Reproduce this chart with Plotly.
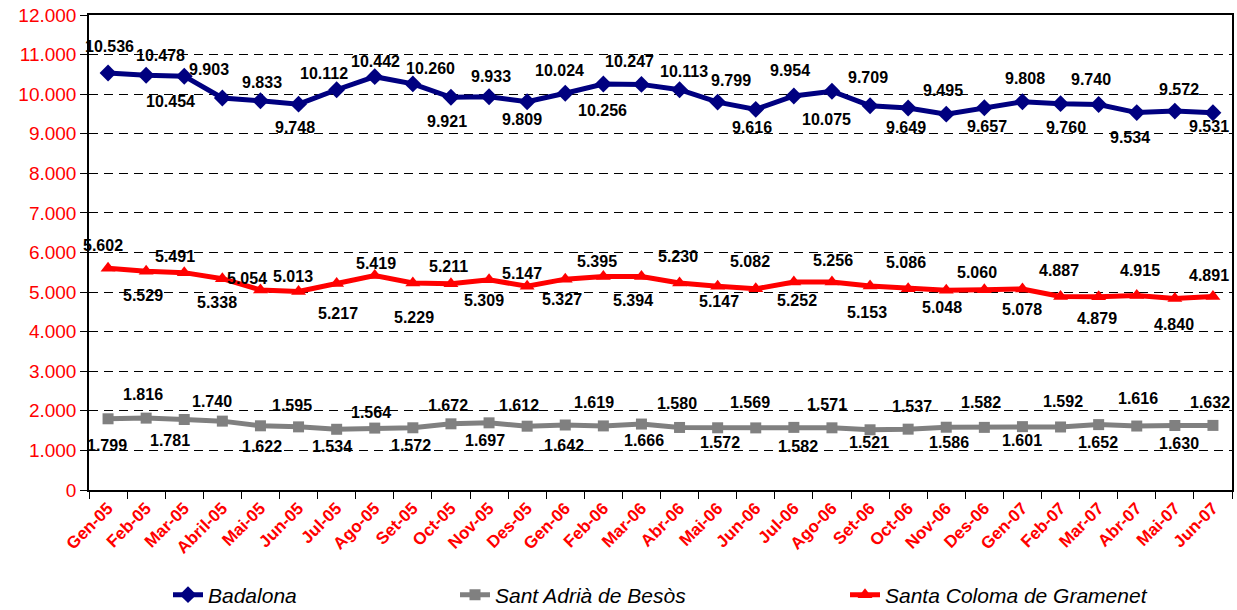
import plotly.graph_objects as go

months = ["Gen-05", "Feb-05", "Mar-05", "Abril-05", "Mai-05", "Jun-05", "Jul-05", "Ago-05",
          "Set-05", "Oct-05", "Nov-05", "Des-05", "Gen-06", "Feb-06", "Mar-06", "Abr-06",
          "Mai-06", "Jun-06", "Jul-06", "Ago-06", "Set-06", "Oct-06", "Nov-06", "Des-06",
          "Gen-07", "Feb-07", "Mar-07", "Abr-07", "Mai-07", "Jun-07"]

badalona = [10536, 10478, 10454, 9903, 9833, 9748, 10112, 10442, 10260, 9921, 9933, 9809,
            10024, 10256, 10247, 10113, 9799, 9616, 9954, 10075, 9709, 9649, 9495, 9657,
            9808, 9760, 9740, 9534, 9572, 9531]

sant_adria = [1799, 1816, 1781, 1740, 1622, 1595, 1534, 1564, 1572, 1672, 1697, 1612,
              1642, 1619, 1666, 1580, 1572, 1569, 1582, 1571, 1521, 1537, 1586, 1582,
              1601, 1592, 1652, 1616, 1630, 1632]

santa_coloma = [5602, 5529, 5491, 5338, 5054, 5013, 5217, 5419, 5229, 5211, 5309, 5147,
                5327, 5395, 5394, 5230, 5147, 5082, 5252, 5256, 5153, 5086, 5048, 5060,
                5078, 4887, 4879, 4915, 4840, 4891]

y_ticks = [0, 1000, 2000, 3000, 4000, 5000, 6000, 7000, 8000, 9000, 10000, 11000, 12000]

# data-label pixel offsets from each point (style only): dx right, dy down
bad_dx = [1, 14, -14, -13, 2, -4, -13, 1, 18, -4, 2, -5, -6, -1, -12, 4, 13, -4, -4, -5,
          -2, -2, -3, 3, 3, 5, -8, -7, 4, -4]
bad_dy = [-26, -20, 25, -29, -18, 23, -16, -15, -15, 24, -20, 18, -23, 26, -23, -18, -22, 18,
          -25, 28, -28, 19, -24, 19, -23, 24, -25, 25, -22, 14]
sant_dx = [-1, -3, -14, -10, 2, -7, -5, -4, -2, -3, -4, -8, -1, -9, 3, -3, 2, -6, 4, -5,
           -1, 4, 3, -3, 0, 2, -1, 1, 4, -3]
sant_dy = [27, -24, 21, -20, 21, -21, 17, -16, 18, -18, 18, -21, 20, -23, 16, -24, 15, -25,
           19, -23, 13, -23, 15, -25, 14, -25, 18, -28, 18, -23]
santa_dx = [-5, -3, -9, -5, -13, -6, 1, 1, 1, -2, -5, -5, -3, -6, -8, -2, 1, -6, 3, 1,
            -3, -2, -4, -7, 0, -2, -2, 3, -1, -4]
santa_dy = [-23, 24, -16, 24, -11, -15, 30, -12, 34, -17, 21, -13, 20, -15, 24, -26, 15, -27,
            18, -21, 26, -26, 17, -17, 20, -26, 22, -25, 26, -21]

label_font = dict(family="Liberation Sans, Arial", size=16, color="black", weight="bold")

series = [
    ("Badalona", badalona, "#000080", "diamond", 13, "legend", bad_dx, bad_dy),
    ("Sant Adrià de Besòs", sant_adria, "#808080", "square", 11, "legend2", sant_dx, sant_dy),
    ("Santa Coloma de Gramenet", santa_coloma, "#FF0000", "triangle-up", 13, "legend3", santa_dx, santa_dy),
]

fig = go.Figure()
annotations = []
for name, vals, color, sym, msize, leg, dxs, dys in series:
    fig.add_trace(go.Scatter(
        x=months, y=vals, name=name, mode="lines+markers",
        line=dict(color=color, width=5),
        marker=dict(symbol=sym, size=msize, color=color),
        legend=leg, cliponaxis=False))
    for m, v, dx, dy in zip(months, vals, dxs, dys):
        annotations.append(dict(
            x=m, y=v, xref="x", yref="y", text=f"{v:,}".replace(",", "."),
            showarrow=False, xshift=dx, yshift=-dy, xanchor="center", yanchor="middle",
            font=label_font))

W, H = 1237, 610
leg_common = dict(orientation="h", yref="container", xref="container",
                  yanchor="middle", y=(H - 595) / H, xanchor="left",
                  font=dict(family="Liberation Sans, Arial", size=21, color="black", style="italic"),
                  bgcolor="rgba(0,0,0,0)", itemwidth=30)

fig.update_layout(
    width=W, height=H,
    margin=dict(l=89, r=5, t=15, b=120, autoexpand=False),
    paper_bgcolor="white", plot_bgcolor="white",
    separators=",.",
    showlegend=True,
    annotations=annotations,
    legend=dict(x=168 / W, **leg_common),
    legend2=dict(x=455 / W, **leg_common),
    legend3=dict(x=845 / W, **leg_common),
    xaxis=dict(
        type="category", tickson="boundaries", ticks="outside", ticklen=7,
        tickcolor="black", showline=True, linecolor="black", linewidth=1.5,
        mirror=True, showgrid=False, tickangle=-45, automargin=False,
        tickfont=dict(family="Liberation Sans, Arial", size=17, color="#FF0000", weight="bold"),
        range=[-0.5, 29.5]),
    yaxis=dict(
        range=[0, 12000], tickvals=y_ticks, tickformat=",.0f", automargin=False,
        ticks="outside", ticklen=7, tickcolor="black",
        showline=True, linecolor="black", linewidth=1.5, mirror=True,
        showgrid=True, gridcolor="black", gridwidth=1, griddash="9px,6px",
        zeroline=False,
        tickfont=dict(family="Liberation Sans, Arial", size=19, color="#FF0000")),
)

fig.write_html("out.html", config={"displayModeBar": False},
               post_script="document.body.style.margin='0px';")
